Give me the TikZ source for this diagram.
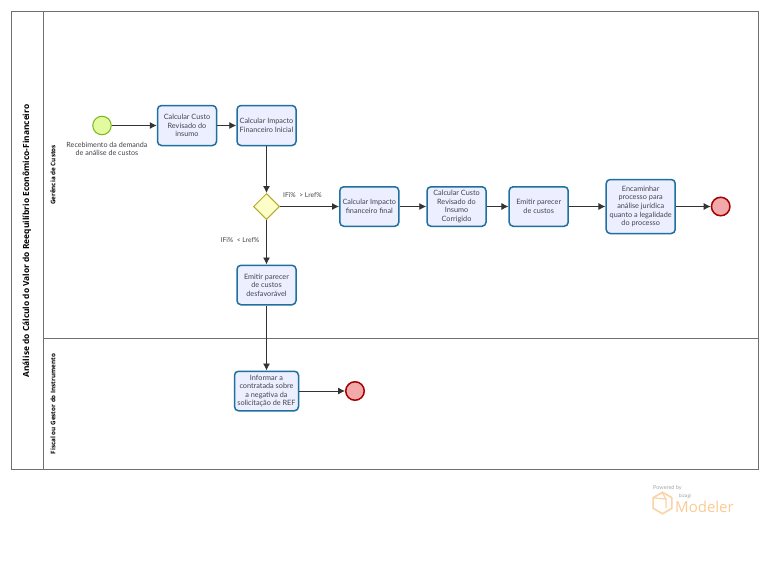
\documentclass[tikz,border=0pt]{standalone}
\usepackage{fontspec}
\setmainfont{Open Sans}
\newfontfamily\lblfont{Lato}
\usetikzlibrary{shapes.geometric,arrows.meta}
\definecolor{taskb}{HTML}{1F6F9F}
\definecolor{taskf}{HTML}{ECEFFF}
\definecolor{txt}{HTML}{44444C}
\definecolor{lanec}{HTML}{707070}
\definecolor{logoc}{HTML}{FBD3A6}
\definecolor{startf}{HTML}{E2FB9F}
\definecolor{startd}{HTML}{7DB61C}
\definecolor{gatef}{HTML}{FDFDC8}
\definecolor{gated}{HTML}{B5AB2A}
\tikzset{
 x=1pt,y=-1pt,
 task/.style={draw=taskb,fill=taskf,line width=1.5pt,rounded corners=4pt,align=center,text=txt,font=\lblfont\fontsize{7.3}{8.65}\selectfont,inner sep=0pt,minimum width=#1},
 conn/.style={draw=black!80,line width=.9pt,-{Latex[length=7pt,width=7pt]}},
 lbl/.style={font=\lblfont\fontsize{7.15}{8.65}\selectfont,text=txt,align=center,inner sep=0pt},
 lane/.style={draw=lanec,line width=.8pt},
 lanet/.style={rotate=90,font=\bfseries\fontsize{6.3}{7.5}\selectfont,text=black,inner sep=0pt},
 endev/.style={circle,draw=red!65!black,fill=red!32!white!90!gray,line width=1.5pt,minimum size=18.5pt,inner sep=0pt},
}
\begin{document}
\begin{tikzpicture}
\useasboundingbox (0,0) rectangle (768,565);
\fill[white] (0,0) rectangle (768,565);
\path[lane] (11,11) rectangle (758,469);
\path[lane] (43,11) -- (43,469);
\path[lane] (43,338) -- (758,338);
\node[lanet,font=\bfseries\fontsize{8.4}{10}\selectfont] (pool) at (27,241) {Análise do Cálculo do Valor do Reequilíbrio Econômico-Financeiro};
\node[lanet] (l1) at (53,175) {Gerência de Custos};
\node[lanet] (l2) at (53,404) {Fiscal ou Gestor do Instrumento};

\node[circle,draw=startd,fill=startf,line width=1pt,minimum size=18.5pt,inner sep=0pt] (start) at (102,125.5) {};
\node[lbl] (startl) at (107,149) {Recebimento da demanda\\de análise de custos};
\node[task=59pt,minimum height=40pt] (t1) at (187,125.5) {Calcular Custo\\Revisado do\\insumo};
\node[task=59pt,minimum height=40pt] (t2) at (266.5,125.5) {Calcular Impacto\\Financeiro Inicial};
\node[diamond,draw=gated,fill=gatef,line width=1pt,minimum width=26pt,minimum height=26pt,inner sep=0pt] (g) at (266.5,206.5) {};
\node[task=59pt,minimum height=39.5pt] (t3) at (369.3,206.5) {Calcular Impacto\\financeiro final};
\node[task=59pt,minimum height=39.5pt] (t4) at (456.5,206.5) {Calcular Custo\\Revisado do\\Insumo\\Corrigido};
\node[task=59pt,minimum height=39.5pt] (t5) at (538.7,206.5) {Emitir parecer\\de custos};
\node[task=69pt,minimum height=54pt] (t6) at (640.7,206.5) {Encaminhar\\processo para\\análise jurídica\\quanto a legalidade\\do processo};
\node[endev] (e1) at (720.7,206.5) {};
\node[task=59pt,minimum height=39.5pt] (t7) at (266.5,285) {Emitir parecer\\de custos\\desfavorável};
\node[task=64pt,minimum height=39.5pt] (t8) at (266.5,391) {Informar a\\contratada sobre\\a negativa da\\solicitação de REF};
\node[endev] (e2) at (355,391) {};

\draw[conn] (start) -- (t1);
\draw[conn] (t1) -- (t2);
\draw[conn] (t2) -- (g);
\draw[conn] (g) -- (t3);
\draw[conn] (t3) -- (t4);
\draw[conn] (t4) -- (t5);
\draw[conn] (t5) -- (t6);
\draw[conn] (t6) -- (e1);
\draw[conn] (g) -- (t7);
\draw[conn] (t7) -- (t8);
\draw[conn] (t8) -- (e2);

\node[lbl,font=\lblfont\fontsize{6.7}{8}\selectfont] (c1) at (302.5,195.5) {IFi\%\ \ > Lref\%};
\node[lbl,font=\lblfont\fontsize{6.7}{8}\selectfont] (c2) at (240,240) {IFi\%\ \ < Lref\%};

\node[font=\lblfont\fontsize{5.5}{6}\selectfont,text=black!35,inner sep=0pt] (pw) at (667.5,487.5) {Powered by};
\node[regular polygon,regular polygon sides=6,shape border rotate=30,draw=logoc,line width=1.6pt,minimum size=21.5pt,inner sep=0pt] (hex) at (662.5,503) {};
\coordinate (hk) at (666,499);
\draw[logoc,line width=1.2pt,line join=round] (654,498) -- (hk) -- (666,508) (hk) -- (662.5,493);
\node[font=\fontsize{4.6}{6}\selectfont,text=black!40,inner sep=0pt] (bz) at (685,496.5) {bizagi};
\node[font=\fontsize{15}{18}\selectfont,text=logoc!90!orange,inner sep=0pt] (md) at (704.5,507) {Modeler};
\end{tikzpicture}
\end{document}
